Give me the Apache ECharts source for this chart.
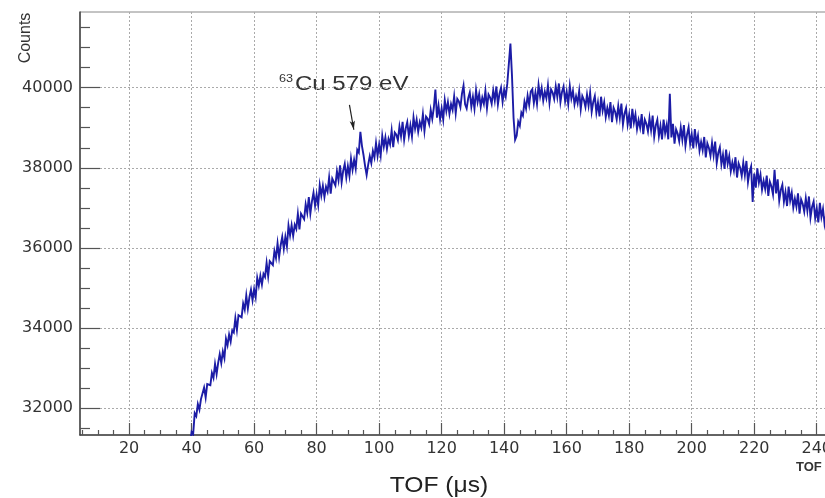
<!DOCTYPE html>
<html><head><meta charset="utf-8">
<script src="https://cdn.jsdelivr.net/npm/echarts@6/dist/echarts.min.js"></script>
<style>html,body{margin:0;padding:0;background:#fff}#c{width:825px;height:498px}</style>
</head><body><div id="c"></div>
<script>
// histogram bins (TOF in microseconds)
const binStart = 39, binWidth = 0.5;
const counts = [
31200,31080,31410,31355,31880,31805,32105,31965,32230,32200,
32520,32270,32605,32615,32575,32885,32760,33105,32850,33135,
33350,33129,33418,33253,33734,33574,33839,33662,33944,33893,
34250,33956,34325,34332,34271,34613,34462,34816,34490,34771,
34960,34696,34972,34772,35256,35056,35306,35088,35356,35277,
35630,35299,35670,35658,35574,35922,35748,36119,35770,36069,
36280,35980,36280,36040,36560,36315,36570,36305,36580,36475,
36850,36465,36860,36830,36720,37090,36880,37270,36860,37165,
37380,37055,37330,37070,37570,37310,37550,37270,37530,37405,
37760,37355,37730,37685,37560,37915,37690,38065,37640,37930,
38100,37760,38040,37800,38230,37950,38200,37980,38450,38380,
38900,38550,38320,38050,37820,38080,38290,38120,38420,38260,
38620,38300,38580,38310,38800,38530,38760,38470,38720,38585,
38930,38515,38880,38825,38690,39030,38790,39145,38700,38980,
39140,38800,39060,38780,39260,38980,39200,38900,39140,39000,
39340,38920,39280,39225,39090,39445,39220,39500,39950,39250,
39550,39215,39480,39205,39690,39415,39640,39345,39590,39445,
39780,39360,39720,39655,39510,39850,40050,39585,39480,39740,
39880,39525,39770,39475,39940,39640,39840,39525,39750,39595,
39920,39485,39830,39755,39600,39930,39680,40030,39580,39850,
40000,39650,39950,39780,40100,40600,41100,40300,39250,38700,
38800,39150,39050,39380,39300,39650,39480,39800,39570,39900,
39960,39620,39880,39595,40070,39780,39990,39675,39900,39740,
40060,39620,39960,39880,39720,40035,39770,40105,39640,39895,
40030,39665,39900,39590,40040,39730,39920,39585,39790,39615,
39920,39465,39790,39695,39520,39825,39550,39875,39400,39645,
39790,39379,39628,39283,39774,39429,39634,39267,39494,39303,
39640,39141,39500,39397,39206,39543,39242,39601,39080,39351,
39490,39079,39328,38983,39474,39129,39334,38967,39194,39003,
39340,38841,39200,39097,38906,39243,38942,39301,38780,39056,
39200,38794,39048,38708,39204,38864,39074,38712,39850,38758,
39100,38601,38960,38857,38666,39003,38702,39066,38550,38826,
39010,38594,38838,38483,38964,38609,38804,38427,38644,38443,
38770,38261,38610,38497,38296,38623,38312,38656,38120,38376,
38510,38089,38328,37973,38454,38099,38294,37917,38134,37933,
38265,37758,38110,37999,37800,38129,37820,38171,37642,37905,
38036,37150,37858,37505,37988,37635,37832,37457,37676,37477,
37806,37299,37650,37539,37340,37950,37360,37711,37182,37445,
37576,37157,37398,37047,37532,37181,37380,37007,37228,37031,
37362,36857,37210,37102,36906,37238,36932,37286,36760,37026,
37160,36744,36988,36638,37124,36774,36974,36602,36824,36628,
36960,36500,36800
];
const xMajorTicks = [20,40,60,80,100,120,140,160,180,200,220,240];
const xMinorTicks = [5,10,15,25,30,35,45,50,55,65,70,75,85,90,95,105,110,115,125,130,135,145,150,155,165,170,175,185,190,195,205,210,215,225,230,235,245];
const yMajorTicks = [32000,34000,36000,38000,40000];
const yMinorTicks = [31500,32500,33000,33500,34500,35000,35500,36500,37000,37500,38500,39000,39500,40500,41000,41500];
const xRange = [4.3, 250];
const yRange = [31334, 41888];
const annotationPeak = { label: 'Cu 579 eV', isotope: '63', from: [90.5, 39570], to: [91.9, 38950] };

const seriesData = counts.map((c, i) => [binStart + i * binWidth, c]);

const chart = echarts.init(document.getElementById('c'), null, { renderer: 'canvas' });
const tickColor = '#555';
const labelStyle = { color: '#333', fontFamily: 'DejaVu Sans', fontSize: 16 };
chart.setOption({
  animation: false,
  backgroundColor: '#fff',
  grid: { left: 80, top: 12, right: -23, bottom: 63, show: true, borderColor: '#888', borderWidth: 1,
          backgroundColor: 'transparent', containLabel: false, outerBoundsMode: 'none' },
  xAxis: [
    { type: 'value', min: xRange[0], max: xRange[1], position: 'bottom',
      axisLine: { show: true, lineStyle: { color: '#444', width: 1.5 } },
      axisTick: { show: true, inside: true, length: 12, customValues: xMajorTicks, lineStyle: { color: tickColor, width: 1.2 } },
      axisLabel: Object.assign({ customValues: xMajorTicks, margin: 6, formatter: v => String(v) }, labelStyle),
      splitLine: { show: true, lineStyle: { color: '#aaa', type: [2, 2], width: 1 } } },
    { type: 'value', min: xRange[0], max: xRange[1], position: 'bottom',
      axisLine: { show: false },
      axisTick: { show: true, inside: true, length: 5, customValues: xMinorTicks, lineStyle: { color: tickColor, width: 1.2 } },
      axisLabel: { show: false }, splitLine: { show: false } }
  ],
  yAxis: [
    { type: 'value', min: yRange[0], max: yRange[1], position: 'left',
      axisLine: { show: true, lineStyle: { color: '#444', width: 1.5 } },
      axisTick: { show: true, inside: true, length: 20, customValues: yMajorTicks, lineStyle: { color: tickColor, width: 1.2 } },
      axisLabel: Object.assign({ customValues: yMajorTicks, margin: 7, formatter: v => String(v) }, labelStyle),
      splitLine: { show: true, lineStyle: { color: '#aaa', type: [2, 2], width: 1 } } },
    { type: 'value', min: yRange[0], max: yRange[1], position: 'left',
      axisLine: { show: false },
      axisTick: { show: true, inside: true, length: 10, customValues: yMinorTicks, lineStyle: { color: tickColor, width: 1.2 } },
      axisLabel: { show: false }, splitLine: { show: false } }
  ],
  series: [{
    type: 'line', xAxisIndex: 0, yAxisIndex: 0, data: seriesData,
    showSymbol: false, symbol: 'none', clip: true,
    lineStyle: { color: '#1c1ca6', width: 1.9, join: 'miter' },
    markLine: {
      silent: true, animation: false, symbol: ['none', 'arrow'], symbolSize: [4, 9],
      label: { show: false },
      lineStyle: { color: '#222', width: 1.2, type: 'solid' },
      data: [[{ coord: annotationPeak.from }, { coord: annotationPeak.to }]]
    }
  }],
  graphic: [
    { type: 'text', x: 26, y: 38, rotation: Math.PI / 2,
      style: { text: 'Counts', fontFamily: 'Liberation Sans', fontSize: 16, fill: '#333', align: 'center', verticalAlign: 'middle' } },
    { type: 'text', x: 439, y: 486, scaleX: 1.12,
      style: { text: 'TOF (μs)', fontFamily: 'Liberation Sans', fontSize: 22, fill: '#222', align: 'center', verticalAlign: 'middle' } },
    { type: 'text', x: 279, y: 73, scaleX: 1.15,
      style: { text: annotationPeak.isotope, fontFamily: 'Liberation Sans', fontSize: 11, fill: '#333', align: 'left', verticalAlign: 'top' } },
    { type: 'text', x: 295, y: 84, scaleX: 1.2,
      style: { text: annotationPeak.label, fontFamily: 'Liberation Sans', fontSize: 20, fill: '#333', align: 'left', verticalAlign: 'middle' } },
    { type: 'text', x: 796, y: 467,
      style: { text: 'TOF', fontFamily: 'Liberation Sans', fontWeight: 'bold', fontSize: 13, fill: '#333', align: 'left', verticalAlign: 'middle' } }
  ]
});
</script></body></html>
